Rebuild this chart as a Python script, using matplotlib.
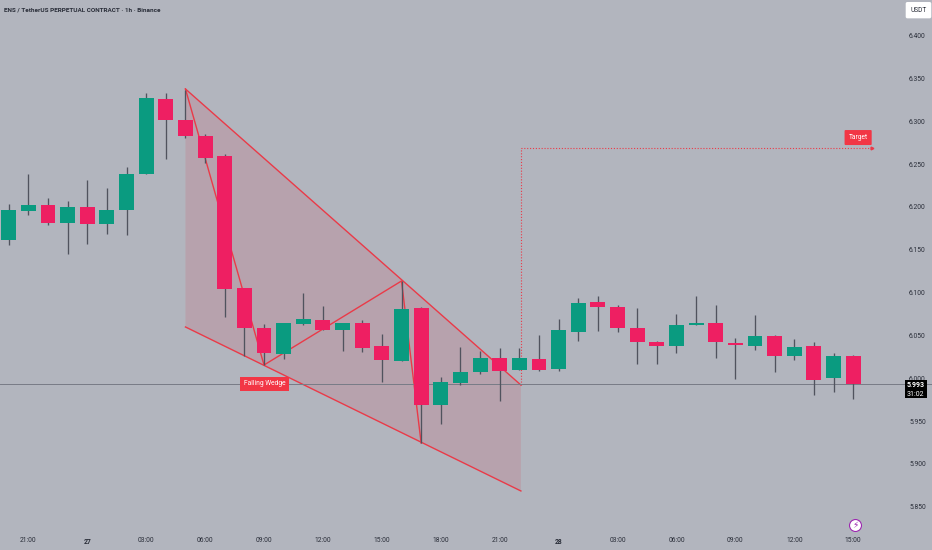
import numpy as np
from matplotlib import pyplot as plt

# hourly candles
opens = [6.161, 6.195, 6.202, 6.181, 6.200, 6.180, 6.196, 6.238, 6.326, 6.302, 6.283,
         6.259, 6.105, 6.059, 6.028, 6.063, 6.068, 6.056, 6.065, 6.038, 6.020, 6.082,
         5.969, 5.995, 6.007, 6.024, 6.010, 6.023, 6.011, 6.054, 6.089, 6.083, 6.059,
         6.042, 6.038, 6.062, 6.065, 6.041, 6.038, 6.049, 6.026, 6.038, 6.000, 6.026]
highs = [6.203, 6.238, 6.211, 6.207, 6.231, 6.222, 6.247, 6.333, 6.333, 6.337, 6.285,
         6.262, 6.105, 6.063, 6.065, 6.100, 6.084, 6.065, 6.068, 6.052, 6.114, 6.083,
         6.001, 6.036, 6.032, 6.035, 6.035, 6.050, 6.069, 6.094, 6.096, 6.085, 6.082,
         6.043, 6.075, 6.096, 6.085, 6.047, 6.074, 6.050, 6.046, 6.042, 6.029, 6.027]
lows = [6.156, 6.191, 6.179, 6.145, 6.157, 6.168, 6.167, 6.238, 6.256, 6.281, 6.251,
        6.071, 6.026, 6.015, 6.023, 6.062, 6.056, 6.032, 6.031, 5.996, 6.020, 5.924,
        5.947, 5.992, 6.005, 5.973, 6.010, 6.009, 6.008, 6.043, 6.055, 6.054, 6.017,
        6.017, 6.030, 6.062, 6.024, 5.999, 6.033, 6.007, 6.021, 5.980, 5.984, 5.976]
closes = [6.196, 6.202, 6.181, 6.200, 6.180, 6.196, 6.238, 6.327, 6.302, 6.283, 6.257,
          6.104, 6.059, 6.030, 6.064, 6.069, 6.056, 6.065, 6.035, 6.021, 6.081, 5.969,
          5.996, 6.007, 6.024, 6.009, 6.024, 6.010, 6.056, 6.088, 6.083, 6.059, 6.042,
          6.038, 6.062, 6.065, 6.042, 6.039, 6.049, 6.026, 6.037, 5.998, 6.026, 5.993]

# drawing tools on top of the candles
wedge_x = [9, 26.08, 26.08, 9]
wedge_y = [6.3378, 5.9921, 5.8684, 6.0599]
zigzag_x = [9, 13, 20, 21]
zigzag_y = [6.3378, 6.0155, 6.1136, 5.9244]
target_x = [26.08, 26.08, 44.0]
target_y = [5.9921, 6.2689, 6.2689]
last_price = 5.993

price_ticks = [5.85, 5.90, 5.95, 6.00, 6.05, 6.10, 6.15, 6.20, 6.25, 6.30, 6.35, 6.40]
time_ticks = [1, 4, 7, 10, 13, 16, 19, 22, 25, 28, 31, 34, 37, 40, 43]
time_labels = ['21:00', '27', '03:00', '06:00', '09:00', '12:00', '15:00', '18:00',
               '21:00', '28', '03:00', '06:00', '09:00', '12:00', '15:00']

GREEN = '#0a9b80'
RED = '#ee1f62'
WICK = '#50535e'
LINE = '#ea3a48'
TEXT = '#2a2e39'
BG = '#b2b5be'

plt.rcParams['font.family'] = ['Roboto', 'DejaVu Sans']

fig = plt.figure(figsize=(9.32, 5.5), dpi=100, facecolor=BG)
ax = fig.add_axes([0, 0, 1, 1], facecolor=BG)

o, h, l, c = map(np.array, (opens, highs, lows, closes))
x = np.arange(len(o))
colors = [GREEN if cl >= op else RED for op, cl in zip(o, c)]

# wedge sits under the candles
ax.fill(wedge_x, wedge_y, color='#c08a96', alpha=0.42, lw=0, zorder=1)
ax.plot(wedge_x[:2], wedge_y[:2], color=LINE, lw=1.0, zorder=2)
ax.plot(wedge_x[3:1:-1], wedge_y[3:1:-1], color=LINE, lw=1.0, zorder=2)
ax.plot(zigzag_x, zigzag_y, color=LINE, lw=1.0, zorder=2)
ax.plot(target_x, target_y, color=LINE, lw=0.8, ls=(0, (1, 1.6)), zorder=2)

ax.axhline(last_price, color='#787b86', lw=0.7, zorder=2.5)

ax.vlines(x, l, h, color=WICK, lw=0.95, zorder=3)
ax.bar(x, np.abs(c - o), bottom=np.minimum(o, c), width=0.76, color=colors, lw=0, zorder=4)

# px -> data limits, 19.64 px per candle and 856.4 px per unit of price
ax.set_xlim(-8.7 / 19.64, (932 - 8.7) / 19.64)
ax.set_ylim(6.4417 - 550 / 856.4, 6.4417)

ax.set_yticks(price_ticks, ['%.3f' % p for p in price_ticks])
ax.yaxis.tick_right()
ax.tick_params(axis='y', length=0, pad=-16.5, labelsize=4.9, labelcolor=TEXT)
ax.set_xticks(time_ticks, time_labels)
ax.tick_params(axis='x', length=0, pad=-9, labelsize=4.9, labelcolor=TEXT)
for lab in ax.get_xticklabels():
    if lab.get_text() in ('27', '28'):
        lab.set_fontweight('bold')
for s in ax.spines.values():
    s.set_visible(False)

ax.text(0.0045, 0.9825, 'ENS / TetherUS PERPETUAL CONTRACT \u00b7 1h \u00b7 Binance', transform=ax.transAxes,
        fontsize=4.6, fontweight='bold', color=TEXT, ha='left', va='center', zorder=6)

ax.text(13.02, 5.9935, 'Falling Wedge', color='white', fontsize=4.8, ha='center', va='center', zorder=6,
        bbox=dict(boxstyle='square,pad=0.55', fc='#f23645', ec='none'))
ax.text(43.25, 6.2811, 'Target', color='white', fontsize=4.8, ha='center', va='center', zorder=6,
        bbox=dict(boxstyle='round,pad=0.6,rounding_size=0.15', fc='#f23645', ec='none'))
ax.plot(target_x[-1] - 0.03, target_y[-1], marker='>', ms=2, color=LINE, zorder=6)

ax.text(0.9855, 0.9815, 'USDT', transform=ax.transAxes, fontsize=4.8, color=TEXT, ha='center', va='center',
        zorder=6, bbox=dict(boxstyle='round,pad=0.7,rounding_size=0.25', fc='white', ec='none'))
ax.text(0.9825, 0.2995, '%.3f' % last_price, transform=ax.transAxes, fontsize=5.0, fontweight='bold', color='white',
        ha='center', va='center', zorder=7)
ax.text(0.9825, 0.2835, '31:02', transform=ax.transAxes, fontsize=5.0, color='white', ha='center', va='center', zorder=7)
ax.add_patch(plt.Rectangle((0.9705, 0.2755), 0.024, 0.0345, transform=ax.transAxes, fc='black', ec='none', zorder=6))

# lightning badge above the last time label
ax.plot(0.9175, 0.0455, marker='o', ms=8.6, mfc='white', mec='#9c27b0', mew=0.8, transform=ax.transAxes, zorder=5)
ax.text(0.9175, 0.0455, '\u26a1', transform=ax.transAxes, fontsize=6.5, color='#9c27b0', ha='center', va='center',
        family='DejaVu Sans', zorder=6)

fig.savefig('out.png', dpi=100, facecolor=BG)
